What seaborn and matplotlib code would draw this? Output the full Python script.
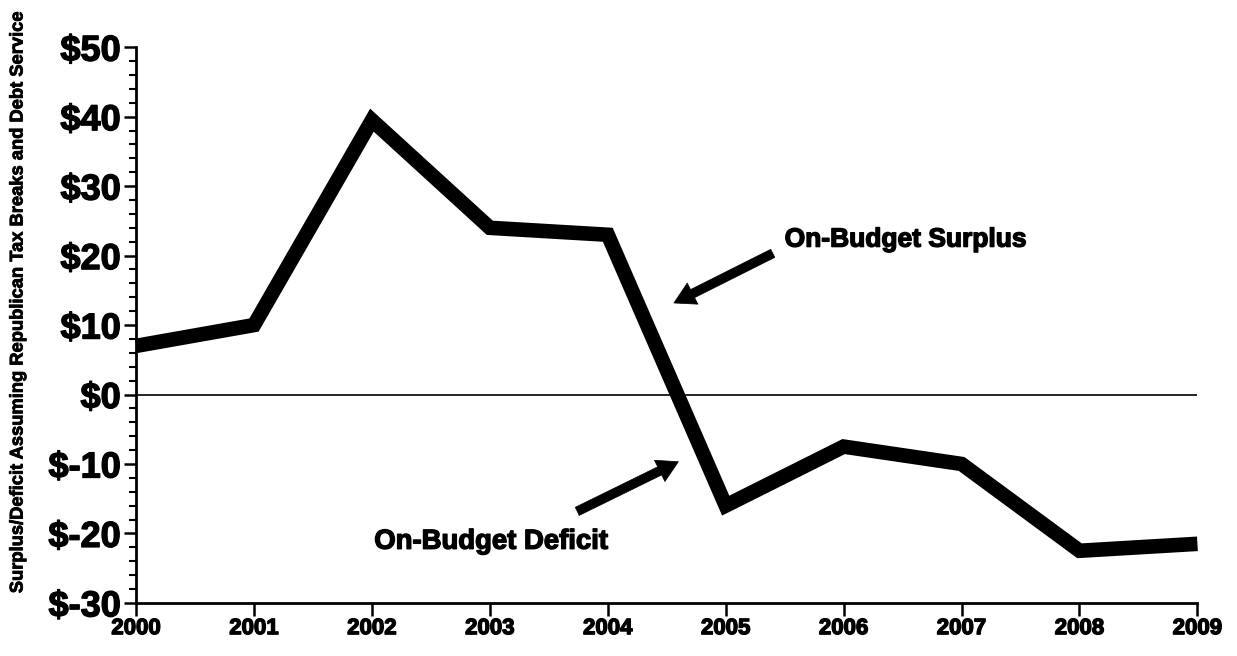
import matplotlib
matplotlib.use("Agg")
import matplotlib.pyplot as plt
import matplotlib.patheffects as pe
from matplotlib.ticker import MultipleLocator
import pandas as pd
import seaborn as sns

# Annual on-budget surplus/deficit, billions of dollars
years = [2000, 2001, 2002, 2003, 2004, 2005, 2006, 2007, 2008, 2009]
balance = [7, 10, 39.5, 24, 23, -16, -7.5, -10, -22.5, -21.5]
y_ticks = [50, 40, 30, 20, 10, 0, -10, -20, -30]
y_tick_labels = ["$50", "$40", "$30", "$20", "$10", "$0", "$-10", "$-20", "$-30"]
y_title = "Surplus/Deficit Assuming Republican Tax Breaks and Debt Service"

sns.set_style("ticks")
plt.rcParams["font.family"] = ["Liberation Sans", "DejaVu Sans"]
plt.rcParams["font.weight"] = "bold"
plt.rcParams["text.color"] = "black"
plt.rcParams["xtick.color"] = "black"
plt.rcParams["ytick.color"] = "black"
plt.rcParams["axes.edgecolor"] = "black"

# slightly heavier strokes for the bold lettering
heavy = [pe.withStroke(linewidth=1.0, foreground="black")]

df = pd.DataFrame({"year": years, "balance": balance})

fig = plt.figure(figsize=(12.37, 6.56), dpi=100)
ax = fig.add_axes([0.110, 0.081, 0.858, 0.847])

sns.lineplot(data=df, x="year", y="balance", ax=ax, color="black",
             linewidth=10.5, solid_joinstyle="miter", solid_capstyle="butt",
             clip_on=False, zorder=3)

# zero reference line
ax.axhline(0, color="black", linewidth=1.2, zorder=2)

ax.set_xlim(years[0], years[-1])
ax.set_ylim(-30, 50)
ax.set_xticks(years)
ax.set_xticklabels([str(y) for y in years], fontsize=16, fontweight="bold")
ax.set_yticks(y_ticks)
ax.set_yticklabels(y_tick_labels, fontsize=26, fontweight="bold")
ax.yaxis.set_minor_locator(MultipleLocator(2))
ax.tick_params(axis="y", which="major", length=9, width=1.8, pad=2)
ax.tick_params(axis="y", which="minor", length=5, width=1.5)
ax.tick_params(axis="x", which="major", length=9, width=1.8, pad=2)
for lbl in ax.get_xticklabels() + ax.get_yticklabels():
    lbl.set_path_effects(heavy)

ax.set_xlabel("")
ax.set_ylabel("")
fig.text(18 / 1237, 1 - 302 / 656, y_title, rotation=90, fontsize=13.2,
         fontweight="bold", ha="center", va="center",
         path_effects=[pe.withStroke(linewidth=0.6, foreground="black")])

sns.despine(ax=ax)
for side in ("left", "bottom"):
    ax.spines[side].set_linewidth(2)

arrow_style = dict(arrowstyle="simple,head_length=1.5,head_width=1.7,tail_width=0.65",
                   color="black", lw=0.5)
ax.annotate("", xy=(2004.54, 13), xytext=(2005.42, 20.5),
            arrowprops=arrow_style)
ax.text(2005.5, 22.3, "On-Budget Surplus", fontsize=19, fontweight="bold",
        ha="left", va="center", path_effects=heavy)

ax.annotate("", xy=(2004.62, -9.5), xytext=(2003.72, -17),
            arrowprops=arrow_style)
ax.text(2002.02, -21.2, "On-Budget Deficit", fontsize=19.8, fontweight="bold",
        ha="left", va="center", path_effects=heavy)

fig.savefig("out.png", dpi=100, facecolor="white")
